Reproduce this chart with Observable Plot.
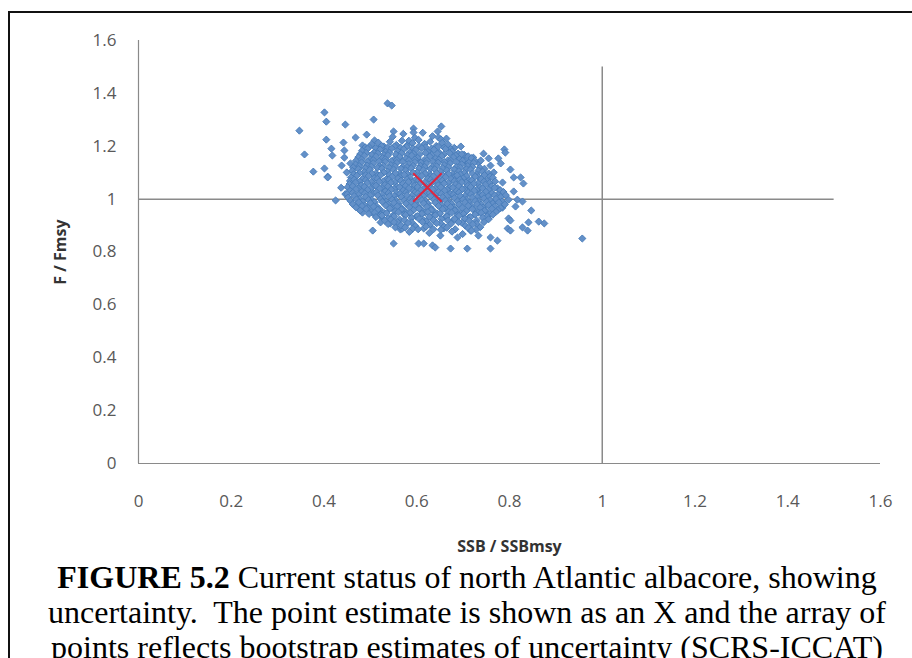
<!DOCTYPE html>
<html>
<head>
<meta charset="utf-8">
<script src="https://cdn.jsdelivr.net/npm/d3@7"></script>
<script src="https://cdn.jsdelivr.net/npm/@observablehq/plot@0.6"></script>
<style>
html, body { margin: 0; padding: 0; width: 912px; height: 658px; overflow: hidden; background: #fff; }
#frame { position: absolute; left: 8px; top: 11px; width: 1000px; height: 700px; border: 2px solid #111; box-sizing: border-box; }
#chart { position: absolute; left: 0; top: 0; }
#caption { position: absolute; left: 9px; width: 916px; top: 560px; text-align: center; font-family: "Liberation Serif", "DejaVu Serif", serif; font-size: 32px; line-height: 35px; color: #000; white-space: pre; }
</style>
</head>
<body>
<div id="frame"></div>
<div id="chart"></div>
<div id="caption"></div>
<script>
// ---- data ----
const xTicks = [0, 0.2, 0.4, 0.6, 0.8, 1, 1.2, 1.4, 1.6];
const yTicks = [0, 0.2, 0.4, 0.6, 0.8, 1, 1.2, 1.4, 1.6];
const xLabel = "SSB / SSBmsy";
const yLabel = "F / Fmsy";
const referenceLevel = [1];      // SSB/SSBmsy = 1 and F/Fmsy = 1
const referenceExtent = [0, 1.5];
const pointEstimate = [[0.623, 1.044]];
const captionLines = [
  ["FIGURE 5.2", " Current status of north Atlantic albacore, showing"],
  ["", "uncertainty.  The point estimate is shown as an X and the array of"],
  ["", "points reflects bootstrap estimates of uncertainty (SCRS-ICCAT)"]
];
// bootstrap estimates [SSB/SSBmsy, F/Fmsy]
const bootstrap = [
  // upper-left outliers
  [0.347,1.259],[0.401,1.328],[0.405,1.293],[0.446,1.282],[0.507,1.301],[0.537,1.362],[0.546,1.354],
  [0.358,1.169],[0.405,1.225],[0.416,1.191],[0.418,1.165],[0.442,1.214],[0.444,1.184],[0.444,1.157],
  [0.468,1.233],[0.492,1.244],[0.509,1.222],[0.377,1.104],[0.401,1.116],[0.408,1.085],[0.438,1.127],
  [0.449,1.101],[0.457,1.135],[0.470,1.127],[0.483,1.203],[0.408,1.082],[0.425,0.995],[0.483,0.976],
  [0.474,0.964],[0.483,0.949],[0.511,0.938],[0.526,0.927],[0.522,0.912],[0.543,0.908],[0.554,0.893],
  [0.505,0.881],[0.565,0.885],[0.437,1.043],[0.446,1.019],
  // top outliers
  [0.550,1.256],[0.593,1.267],[0.593,1.252],[0.653,1.275],[0.645,1.256],[0.647,1.233],[0.664,1.229],
  [0.677,1.188],[0.701,1.165],[0.722,1.157],[0.744,1.172],[0.755,1.154],[0.733,1.138],[0.759,1.127],[0.766,1.101],
  // right outliers
  [0.789,1.188],[0.791,1.176],[0.776,1.154],[0.781,1.135],[0.802,1.112],[0.824,1.082],[0.809,1.082],
  [0.830,1.059],[0.785,1.063],[0.809,1.029],[0.798,0.998],[0.817,0.998],[0.828,0.991],[0.813,0.972],
  [0.847,0.957],[0.785,0.968],[0.798,0.927],[0.802,0.919],[0.841,0.912],[0.863,0.915],[0.875,0.908],
  [0.828,0.893],[0.839,0.881],[0.796,0.889],[0.802,0.881],[0.957,0.851],[0.774,0.843],
  // bottom outliers
  [0.565,0.893],[0.569,0.889],[0.604,0.832],[0.615,0.832],[0.634,0.825],[0.640,0.817],[0.673,0.813],
  [0.709,0.813],[0.651,0.862],[0.688,0.855],[0.733,0.862],[0.759,0.855],[0.759,0.813],[0.550,0.832],
  [0.615,0.889],[0.658,0.889],[0.716,0.881],
  // dense core
  [0.548,1.236],[0.571,1.247],[0.596,1.232],[0.613,1.251],[0.634,1.238],[0.652,1.226],[0.583,1.221],
  [0.503,1.208],[0.517,1.214],[0.529,1.199],[0.542,1.217],[0.556,1.205],[0.568,1.221],[0.579,1.203],
  [0.591,1.212],[0.604,1.224],[0.617,1.209],[0.629,1.217],[0.642,1.201],[0.655,1.213],[0.668,1.206],
  [0.681,1.194],[0.695,1.199],[0.489,1.196],
  [0.497,1.197],[0.511,1.193],[0.524,1.201],[0.537,1.195],[0.552,1.199],[0.565,1.194],[0.578,1.198],
  [0.592,1.192],[0.605,1.200],[0.619,1.196],[0.632,1.191],[0.646,1.198],[0.659,1.195],[0.673,1.190],
  [0.482,1.183],[0.494,1.191],[0.508,1.176],[0.521,1.188],[0.533,1.179],[0.546,1.192],[0.559,1.181],
  [0.572,1.189],[0.585,1.177],[0.598,1.186],[0.611,1.193],[0.624,1.178],[0.637,1.187],[0.649,1.175],
  [0.662,1.190],[0.676,1.181],[0.689,1.172],[0.702,1.168],
  [0.478,1.170],[0.491,1.175],[0.503,1.168],[0.516,1.173],[0.529,1.167],[0.541,1.176],[0.555,1.169],
  [0.567,1.174],[0.580,1.166],[0.593,1.172],[0.606,1.169],[0.619,1.175],[0.632,1.167],[0.645,1.172],
  [0.658,1.168],[0.671,1.174],[0.684,1.165],[0.697,1.170],[0.711,1.162],
  [0.474,1.158],[0.487,1.164],[0.499,1.151],[0.512,1.162],[0.526,1.155],[0.538,1.166],[0.551,1.149],
  [0.563,1.160],[0.577,1.153],[0.589,1.165],[0.602,1.156],[0.616,1.148],[0.628,1.161],[0.641,1.152],
  [0.654,1.163],[0.667,1.147],[0.679,1.158],[0.692,1.151],[0.705,1.143],[0.718,1.155],[0.738,1.146],
  [0.469,1.145],[0.481,1.150],[0.494,1.142],[0.506,1.148],[0.519,1.143],[0.532,1.151],[0.545,1.144],
  [0.557,1.148],[0.570,1.141],[0.583,1.147],[0.596,1.150],[0.609,1.138],[0.622,1.147],[0.635,1.141],
  [0.648,1.149],[0.660,1.140],[0.673,1.146],[0.686,1.139],[0.699,1.145],[0.712,1.137],[0.725,1.144],
  [0.468,1.131],[0.481,1.139],[0.493,1.127],[0.506,1.136],[0.519,1.124],[0.532,1.141],[0.544,1.129],
  [0.557,1.137],[0.570,1.122],[0.583,1.133],[0.596,1.140],[0.608,1.126],[0.621,1.135],[0.634,1.123],
  [0.646,1.138],[0.659,1.129],[0.672,1.136],[0.685,1.121],[0.697,1.132],[0.710,1.125],[0.723,1.137],[0.736,1.119],
  [0.463,1.120],[0.476,1.125],[0.489,1.117],[0.502,1.123],[0.515,1.119],[0.528,1.126],[0.541,1.118],
  [0.553,1.124],[0.566,1.115],[0.579,1.121],[0.592,1.126],[0.605,1.116],[0.617,1.122],[0.630,1.114],
  [0.643,1.124],[0.656,1.117],[0.668,1.121],[0.681,1.112],[0.694,1.119],[0.707,1.113],[0.720,1.122],
  [0.733,1.108],[0.746,1.115],
  [0.461,1.107],[0.474,1.114],[0.487,1.102],[0.499,1.111],[0.512,1.098],[0.525,1.116],[0.537,1.104],
  [0.550,1.112],[0.563,1.097],[0.576,1.109],[0.588,1.117],[0.601,1.101],[0.614,1.110],[0.627,1.096],
  [0.639,1.113],[0.652,1.103],[0.665,1.109],[0.678,1.095],[0.691,1.106],[0.703,1.099],[0.716,1.112],
  [0.729,1.093],[0.742,1.104],[0.755,1.097],
  [0.464,1.094],[0.477,1.099],[0.490,1.091],[0.503,1.097],[0.516,1.090],[0.529,1.101],[0.541,1.092],
  [0.554,1.098],[0.567,1.089],[0.580,1.095],[0.592,1.100],[0.605,1.087],[0.618,1.096],[0.631,1.088],
  [0.643,1.098],[0.656,1.090],[0.669,1.095],[0.682,1.086],[0.694,1.093],[0.707,1.087],[0.720,1.097],
  [0.733,1.084],[0.746,1.091],[0.758,1.086],
  [0.458,1.082],[0.471,1.089],[0.483,1.076],[0.496,1.087],[0.509,1.079],[0.522,1.091],[0.534,1.074],
  [0.547,1.085],[0.560,1.078],[0.573,1.092],[0.585,1.081],[0.598,1.073],[0.611,1.088],[0.624,1.077],
  [0.636,1.086],[0.649,1.071],[0.662,1.083],[0.675,1.075],[0.687,1.090],[0.700,1.079],[0.713,1.072],
  [0.726,1.085],[0.739,1.076],[0.751,1.069],[0.764,1.081],
  [0.456,1.069],[0.465,1.074],[0.477,1.066],[0.490,1.072],[0.502,1.065],[0.515,1.077],[0.528,1.067],
  [0.540,1.073],[0.553,1.064],[0.566,1.070],[0.579,1.075],[0.591,1.062],[0.604,1.071],[0.617,1.063],
  [0.630,1.073],[0.642,1.065],[0.655,1.070],[0.668,1.061],[0.681,1.068],[0.693,1.074],[0.706,1.063],
  [0.719,1.071],[0.732,1.060],[0.745,1.066],[0.757,1.061],[0.769,1.067],
  [0.455,1.057],[0.468,1.063],[0.480,1.052],[0.493,1.061],[0.506,1.049],[0.519,1.066],[0.531,1.054],
  [0.544,1.062],[0.557,1.047],[0.570,1.058],[0.582,1.065],[0.595,1.051],[0.608,1.060],[0.621,1.046],
  [0.633,1.063],[0.646,1.053],[0.659,1.059],[0.672,1.045],[0.684,1.056],[0.697,1.064],[0.710,1.050],
  [0.723,1.058],[0.736,1.044],[0.748,1.055],[0.761,1.048],[0.774,1.041],
  [0.451,1.045],[0.462,1.049],[0.474,1.041],[0.487,1.047],[0.500,1.040],[0.512,1.051],[0.525,1.042],
  [0.538,1.048],[0.551,1.039],[0.563,1.045],[0.576,1.050],[0.589,1.037],[0.602,1.046],[0.614,1.038],
  [0.627,1.048],[0.640,1.040],[0.652,1.045],[0.665,1.036],[0.678,1.043],[0.691,1.049],[0.703,1.038],
  [0.716,1.046],[0.729,1.035],[0.742,1.041],[0.755,1.036],[0.768,1.043],[0.780,1.034],
  [0.456,1.031],[0.469,1.038],[0.481,1.026],[0.494,1.035],[0.507,1.023],[0.520,1.040],[0.532,1.029],
  [0.545,1.036],[0.558,1.021],[0.571,1.033],[0.583,1.041],[0.596,1.025],[0.609,1.034],[0.622,1.020],
  [0.634,1.037],[0.647,1.027],[0.660,1.032],[0.673,1.019],[0.685,1.030],[0.698,1.038],[0.711,1.024],
  [0.724,1.031],[0.737,1.018],[0.749,1.028],[0.762,1.022],[0.775,1.016],[0.787,1.027],
  [0.450,1.019],[0.462,1.024],[0.475,1.016],[0.488,1.022],[0.500,1.014],[0.513,1.026],[0.526,1.017],
  [0.539,1.023],[0.551,1.012],[0.564,1.020],[0.577,1.026],[0.590,1.013],[0.602,1.021],[0.615,1.011],
  [0.628,1.023],[0.640,1.015],[0.653,1.020],[0.666,1.010],[0.679,1.017],[0.691,1.025],[0.704,1.012],
  [0.717,1.019],[0.730,1.008],[0.742,1.016],[0.755,1.010],[0.768,1.014],[0.781,1.008],[0.792,1.015],
  [0.452,1.006],[0.465,1.012],[0.477,1.001],[0.490,1.009],[0.503,0.997],[0.516,1.014],[0.528,1.003],
  [0.541,1.011],[0.554,0.996],[0.567,1.008],[0.579,1.015],[0.592,0.999],[0.605,1.009],[0.618,0.994],
  [0.630,1.011],[0.643,1.002],[0.656,1.007],[0.669,0.993],[0.681,1.004],[0.694,1.012],[0.707,0.998],
  [0.720,1.006],[0.733,0.992],[0.745,1.003],[0.758,0.996],[0.771,1.001],[0.784,0.991],
  [0.457,0.994],[0.470,0.999],[0.483,0.991],[0.496,0.997],[0.509,0.988],[0.522,1.000],[0.534,0.991],
  [0.547,0.998],[0.560,0.985],[0.573,0.995],[0.586,1.001],[0.598,0.987],[0.611,0.996],[0.624,0.983],
  [0.637,0.998],[0.649,0.989],[0.662,0.995],[0.675,0.982],[0.688,0.992],[0.700,0.999],[0.713,0.986],
  [0.726,0.993],[0.739,0.980],[0.751,0.990],[0.764,0.984],[0.777,0.988],[0.790,0.980],
  [0.462,0.981],[0.475,0.988],[0.488,0.976],[0.500,0.985],[0.513,0.973],[0.526,0.990],[0.538,0.979],
  [0.551,0.986],[0.564,0.971],[0.577,0.983],[0.589,0.990],[0.602,0.975],[0.615,0.984],[0.628,0.970],
  [0.640,0.987],[0.653,0.977],[0.666,0.982],[0.679,0.969],[0.691,0.980],[0.704,0.988],[0.717,0.974],
  [0.730,0.981],[0.743,0.968],[0.755,0.978],[0.768,0.972],[0.781,0.966],
  [0.469,0.969],[0.482,0.974],[0.495,0.966],[0.507,0.972],[0.520,0.962],[0.533,0.976],[0.545,0.967],
  [0.558,0.973],[0.571,0.959],[0.584,0.970],[0.596,0.977],[0.609,0.962],[0.622,0.971],[0.635,0.958],
  [0.647,0.974],[0.660,0.965],[0.673,0.970],[0.686,0.957],[0.698,0.967],[0.711,0.975],[0.724,0.961],
  [0.737,0.968],[0.749,0.956],[0.762,0.964],[0.775,0.959],
  [0.478,0.957],[0.491,0.963],[0.503,0.951],[0.516,0.960],[0.529,0.948],[0.542,0.965],[0.554,0.954],
  [0.567,0.961],[0.580,0.946],[0.593,0.958],[0.605,0.964],[0.618,0.950],[0.631,0.959],[0.644,0.945],
  [0.656,0.962],[0.669,0.952],[0.682,0.957],[0.695,0.944],[0.707,0.955],[0.720,0.962],[0.733,0.949],
  [0.746,0.956],[0.758,0.943],[0.771,0.952],
  [0.497,0.944],[0.509,0.949],[0.522,0.940],[0.535,0.947],[0.548,0.937],[0.560,0.951],[0.573,0.942],
  [0.586,0.948],[0.599,0.934],[0.611,0.945],[0.624,0.951],[0.637,0.937],[0.650,0.946],[0.662,0.933],
  [0.675,0.949],[0.688,0.939],[0.701,0.944],[0.713,0.931],[0.726,0.942],[0.739,0.948],[0.752,0.935],[0.764,0.941],
  [0.512,0.932],[0.525,0.938],[0.538,0.926],[0.551,0.935],[0.563,0.923],[0.576,0.940],[0.589,0.929],
  [0.602,0.936],[0.614,0.921],[0.627,0.933],[0.640,0.939],[0.653,0.925],[0.665,0.934],[0.678,0.920],
  [0.691,0.937],[0.704,0.927],[0.716,0.932],[0.729,0.919],[0.742,0.930],[0.755,0.924],
  [0.531,0.919],[0.544,0.923],[0.558,0.914],[0.573,0.921],[0.589,0.912],[0.605,0.925],[0.620,0.916],
  [0.636,0.921],[0.651,0.909],[0.667,0.919],[0.682,0.925],[0.697,0.911],[0.713,0.918],[0.729,0.907],[0.745,0.913],
  [0.538,0.906],[0.551,0.913],[0.566,0.901],[0.581,0.910],[0.597,0.898],[0.612,0.914],[0.628,0.903],
  [0.643,0.909],[0.659,0.896],[0.674,0.907],[0.690,0.913],[0.705,0.899],[0.721,0.905],[0.737,0.894],
  [0.575,0.893],[0.591,0.888],[0.620,0.896],[0.636,0.886],[0.665,0.892],[0.683,0.886],[0.711,0.891],[0.728,0.884],
  [0.584,0.876],[0.603,0.886],[0.627,0.872],[0.652,0.884],[0.676,0.877],[0.699,0.868],[0.718,0.881]
];

const fmt = d => String(+d.toFixed(1));
const tickFont = "Open Sans, Liberation Sans, sans-serif";

const chart = Plot.plot({
  width: 912,
  height: 560,
  marginLeft: 138,
  marginRight: 32,
  marginTop: 40,
  marginBottom: 97,
  style: { background: "transparent", fontFamily: tickFont, fontSize: "17px", color: "#595959" },
  x: { domain: [0, 1.6], ticks: xTicks, tickFormat: fmt, tickSize: 0, tickPadding: 31, label: xLabel, labelAnchor: "center", labelOffset: 88, labelArrow: "none" },
  y: { domain: [0, 1.6], ticks: yTicks, tickFormat: fmt, tickSize: 0, tickPadding: 22, label: yLabel, labelAnchor: "center", labelOffset: 84, labelArrow: "none" },
  marks: [
    Plot.ruleX([0], { stroke: "#8a8a8a", strokeWidth: 1.2 }),
    Plot.ruleY([0], { stroke: "#8a8a8a", strokeWidth: 1.2 }),
    Plot.ruleY(referenceLevel, { x1: referenceExtent[0], x2: referenceExtent[1], stroke: "#8a8a8a", strokeWidth: 1.5 }),
    Plot.ruleX(referenceLevel, { y1: referenceExtent[0], y2: referenceExtent[1], stroke: "#8a8a8a", strokeWidth: 1.5 }),
    Plot.dot(bootstrap, { x: d => d[0], y: d => d[1], symbol: "diamond2", r: 3.2, fill: "#6390c8", stroke: "#4a7ebb", strokeWidth: 1 }),
    Plot.dot(pointEstimate, { x: d => d[0], y: d => d[1], symbol: "times", r: 13, stroke: "#e0243e", strokeWidth: 2 })
  ]
});
document.getElementById("chart").appendChild(chart);

// axis titles: bold, dark gray
d3.select(chart).selectAll("g[aria-label='x-axis label'] text, g[aria-label='y-axis label'] text")
  .attr("font-weight", "bold").attr("fill", "#333").attr("font-size", "16px");

const cap = d3.select("#caption");
captionLines.forEach(([bold, rest]) => {
  const line = cap.append("div");
  if (bold) line.append("b").text(bold);
  line.append("span").text(rest);
});
</script>
</body>
</html>
